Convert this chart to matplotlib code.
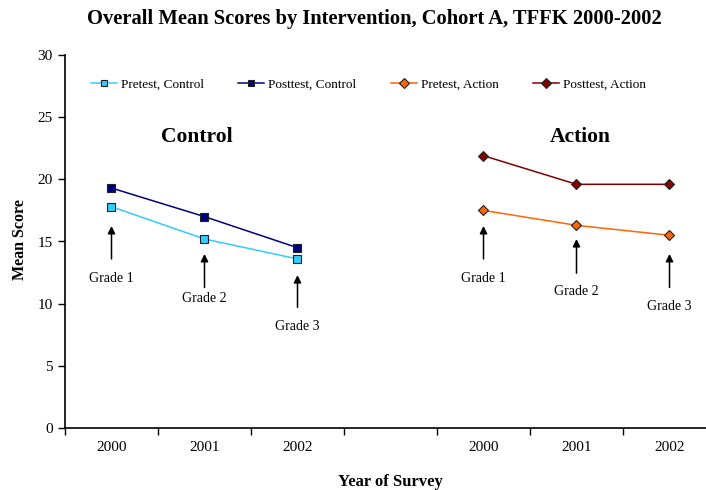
import matplotlib
matplotlib.use("Agg")
import matplotlib.pyplot as plt
import numpy as np

plt.rcParams['font.family'] = ['Liberation Serif', 'DejaVu Serif']

# --- data ---
tick_labels = ['2000', '2001', '2002', '', '2000', '2001', '2002']
control_x = [1, 2, 3]
action_x = [5, 6, 7]

pre_control = [17.8, 15.2, 13.6]
post_control = [19.3, 17.0, 14.5]
pre_action = [17.5, 16.3, 15.5]
post_action = [21.9, 19.6, 19.6]

grades = ['Grade 1', 'Grade 2', 'Grade 3']
# arrow tip, arrow tail, label y for each grade
control_tip = [16.25, 14.0, 12.3]
control_tail = [13.6, 11.3, 9.7]
control_lab = [12.05, 10.45, 8.2]
action_tip = [16.25, 15.2, 14.0]
action_tail = [13.6, 12.45, 11.3]
action_lab = [12.05, 10.95, 9.8]

fig = plt.figure(figsize=(7.06, 4.90), dpi=100)
ax = fig.add_axes([65/706, 1-428/490, 651/706, 373/490])

ax.plot(control_x, pre_control, color='#33CCFF', lw=1.1, marker='s', ms=5.5,
        mfc='#33CCFF', mec='#202020', mew=0.8, label='Pretest, Control')
ax.plot(control_x, post_control, color='#000080', lw=1.1, marker='s', ms=5.5,
        mfc='#000080', mec='#202020', mew=0.8, label='Posttest, Control')
ax.plot(action_x, pre_action, color='#FF6600', lw=1.1, marker='D', ms=5.5,
        mfc='#FF6600', mec='#202020', mew=0.8, label='Pretest, Action')
ax.plot(action_x, post_action, color='#800000', lw=1.1, marker='D', ms=5.5,
        mfc='#800000', mec='#202020', mew=0.8, label='Posttest, Action')

for xs, tips, tails, labs in [(control_x, control_tip, control_tail, control_lab),
                              (action_x, action_tip, action_tail, action_lab)]:
    for x, t, b, ly, g in zip(xs, tips, tails, labs, grades):
        ax.annotate('', xy=(x, t), xytext=(x, b),
                    arrowprops=dict(arrowstyle='-|>', color='black', lw=1.1,
                                    mutation_scale=11, shrinkA=0, shrinkB=0))
        ax.text(x, ly, g, ha='center', va='center', fontsize=10)

ax.text(1.92, 23.4, 'Control', ha='center', va='center', fontsize=15.5, fontweight='bold')
ax.text(6.04, 23.4, 'Action', ha='center', va='center', fontsize=15.5, fontweight='bold')

ax.set_xlim(0.5, 7.5)
ax.set_ylim(0, 30)
ax.set_yticks(np.arange(0, 31, 5))
ax.set_xticks(np.arange(1, 8))
ax.set_xticklabels(tick_labels)
ax.set_xticks(np.arange(0.5, 8, 1), minor=True)
ax.tick_params(axis='x', which='major', length=0, pad=9, labelsize=11)
ax.tick_params(axis='x', which='minor', length=5, width=1, direction='out')
ax.tick_params(axis='y', length=5, width=1, direction='out', pad=4, labelsize=11)
for s in ['top', 'right']:
    ax.spines[s].set_visible(False)
for s in ['left', 'bottom']:
    ax.spines[s].set_linewidth(1.2)

ax.legend(loc='center', bbox_to_anchor=(0.466, 0.92), ncol=4, frameon=False,
          fontsize=9.5, handlelength=1.97, columnspacing=2.6, handletextpad=0.3,
          markerscale=0.9)

fig.text(374/706, 1-19/490, 'Overall Mean Scores by Intervention, Cohort A, TFFK 2000-2002',
         ha='center', va='center', fontsize=14.8, fontweight='bold')
fig.text(390/706, 1-482/490, 'Year of Survey', ha='center', va='center',
         fontsize=12, fontweight='bold')
fig.text(20/706, 1-240/490, 'Mean Score', ha='center', va='center', rotation=90,
         fontsize=11.5, fontweight='bold')

fig.savefig('out.png', dpi=100)
